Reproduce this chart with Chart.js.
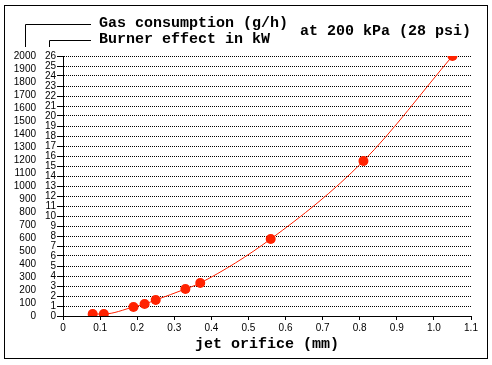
<!DOCTYPE html>
<html>
<head>
<meta charset="utf-8">
<script src="https://cdn.jsdelivr.net/npm/chart.js@4"></script>
<style>
  html, body { margin: 0; padding: 0; background: #fff; }
  #wrap { width: 492px; height: 365px; position: relative; }
</style>
</head>
<body>
<div id="wrap"><canvas id="chart"></canvas></div>
<script>
// jet orifice (mm) and burner effect (kW)
let orifice = [0.08, 0.11, 0.19, 0.22, 0.25, 0.33, 0.37, 0.56, 0.81, 1.05];
let effect = [0.2, 0.2, 0.9, 1.2, 1.6, 2.7, 3.3, 7.7, 15.5, 26];

let titleGas = "Gas consumption (g/h)";
let titleKw = "Burner effect in kW";
let titlePressure = "at 200 kPa (28 psi)";
let titleX = "jet orifice (mm)";

let red = "#ff2200";
let monoFont = "bold 15px 'Liberation Mono', 'DejaVu Sans Mono', monospace";

let points = [];
for (let i = 0; i < orifice.length; i++) {
    points.push({x: orifice[i], y: effect[i]});
}

// frame, header texts and the little leader lines
let decorations = {
    id: "decorations",
    afterDraw(chart) {
        let ctx = chart.ctx;
        ctx.save();
        ctx.strokeStyle = "#000";
        ctx.lineWidth = 1;
        ctx.strokeRect(4.5, 5.5, 483, 353);

        ctx.beginPath();
        ctx.moveTo(25.5, 47);
        ctx.lineTo(25.5, 24.5);
        ctx.lineTo(91, 24.5);
        ctx.moveTo(49.5, 47);
        ctx.lineTo(49.5, 40.5);
        ctx.lineTo(91, 40.5);
        ctx.stroke();

        ctx.fillStyle = "#000";
        ctx.font = monoFont;
        ctx.textBaseline = "middle";
        ctx.fillText(titleGas, 99, 23);
        ctx.fillText(titleKw, 99, 39);
        ctx.fillText(titlePressure, 300, 31);
        ctx.restore();
    }
};

new Chart(document.getElementById("chart"), {
    type: "scatter",
    data: {
        datasets: [{
            data: points,
            showLine: true,
            cubicInterpolationMode: "monotone",
            borderColor: red,
            borderWidth: 1,
            backgroundColor: red,
            pointBackgroundColor: red,
            pointBorderWidth: 0,
            pointRadius: 5,
            yAxisID: "y"
        }]
    },
    plugins: [decorations],
    options: {
        responsive: true,
        maintainAspectRatio: false,
        animation: false,
        layout: { padding: { left: 0, right: 21, top: 56, bottom: 0 } },
        plugins: {
            legend: { display: false },
            tooltip: { enabled: false }
        },
        scales: {
            x: {
                type: "linear",
                min: 0,
                max: 1.1,
                ticks: {
                    stepSize: 0.1,
                    color: "#000",
                    padding: 2,
                    maxRotation: 0,
                    autoSkip: false,
                    font: { family: "'Liberation Sans', Arial, sans-serif", size: 10 }
                },
                grid: { drawOnChartArea: false, tickLength: 4, tickColor: "#000" },
                border: { color: "#000", width: 1 },
                title: {
                    display: true,
                    text: titleX,
                    color: "#000",
                    padding: { top: 4, bottom: 12 },
                    font: { family: "'Liberation Mono', 'DejaVu Sans Mono', monospace", size: 15, weight: "bold" }
                },
                afterFit(axis) { axis.height = 49; }
            },
            y: {
                type: "linear",
                position: "left",
                weight: 0,
                min: 0,
                max: 26,
                ticks: {
                    stepSize: 1,
                    color: "#000",
                    padding: 1,
                    autoSkip: false,
                    font: { family: "'Liberation Sans', Arial, sans-serif", size: 10 }
                },
                grid: { color: "#000", lineWidth: 1, tickLength: 6, tickColor: "#000", tickBorderDash: [] },
                border: { color: "#000", width: 1, dash: [1, 1] },
                afterFit(axis) { axis.width = 23; }
            },
            gas: {
                type: "linear",
                position: "left",
                weight: 1,
                min: 0,
                max: 2000,
                ticks: {
                    stepSize: 100,
                    color: "#000",
                    padding: 4,
                    autoSkip: false,
                    callback: v => String(v),
                    font: { family: "'Liberation Sans', Arial, sans-serif", size: 10 }
                },
                grid: { display: false, drawTicks: false },
                border: { display: false },
                afterFit(axis) { axis.width = 40; }
            }
        }
    }
});
</script>
</body>
</html>
